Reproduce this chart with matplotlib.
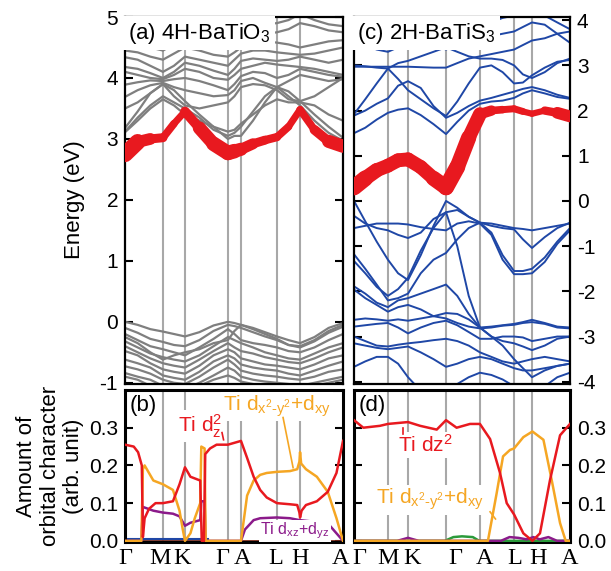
import numpy as np
import matplotlib.pyplot as plt
from matplotlib.collections import LineCollection

plt.rcParams.update({
    'font.family': 'Liberation Sans',
    'font.size': 15,
    'axes.unicode_minus': False,
    'mathtext.fontset': 'custom',
    'mathtext.rm': 'Liberation Sans',
    'mathtext.it': 'Liberation Sans',
    'mathtext.default': 'regular',
})

RED = '#e8191f'
ORANGE = '#f5a623'
PURPLE = '#8b1a8a'
GREY = '#7f7f7f'
BLUE = '#1f47a6'
VLINE = '#a8a8a8'

kpath_labels = ['Γ', 'M', 'K', 'Γ', 'A', 'L', 'H', 'A']

# ---------------- 4H-BaTiO3 ----------------
bto_sym = [0.0, 0.174, 0.275, 0.472, 0.532, 0.697, 0.803, 1.0]
bto_label_x = [0.0, 0.161, 0.261, 0.445, 0.537, 0.693, 0.803, 0.987]
bto_k = [0.0, 0.058, 0.116, 0.174, 0.2245, 0.275, 0.341, 0.406, 0.472, 0.502,
         0.532, 0.587, 0.642, 0.697, 0.750, 0.803, 0.869, 0.934, 1.0]

bto_red = [2.75, 2.95, 3.0, 3.02, 3.25, 3.45, 3.18, 2.92, 2.77, 2.8,
           2.83, 2.92, 2.98, 3.03, 3.2, 3.48, 3.15, 2.96, 2.88]
bto_red_w = [13, 10, 7, 6, 5, 5, 9, 10, 11, 10, 9, 7, 6, 6, 5, 5, 6, 8, 11]

bto_cond = [
    [3.12, 3.35, 3.55, 3.7, 3.6, 3.5, 3.35, 3.15, 3.05, 3.1, 3.2, 3.45, 3.7, 3.85, 3.7, 3.55, 3.3, 3.1, 2.97],
    [3.18, 3.45, 3.75, 3.9, 3.8, 3.62, 3.4, 3.2, 3.0, 3.05, 3.05, 3.3, 3.6, 3.85, 3.78, 3.62, 3.4, 3.2, 3.02],
    [3.69, 3.8, 3.88, 3.92, 3.85, 3.8, 3.75, 3.7, 3.72, 3.8, 3.95, 4.0, 3.92, 3.85, 3.95, 4.05, 4.0, 3.95, 3.98],
    [3.89, 3.93, 3.96, 3.95, 3.98, 4.0, 3.95, 3.88, 3.8, 3.9, 4.03, 4.1, 4.08, 4.0, 4.05, 4.15, 4.1, 4.05, 4.02],
    [4.1, 4.05, 4.0, 3.98, 4.05, 4.15, 4.1, 4.0, 3.97, 4.05, 4.15, 4.2, 4.25, 4.22, 4.2, 4.18, 4.15, 4.1, 4.05],
    [4.18, 4.15, 4.08, 4.0, 4.1, 4.25, 4.2, 4.12, 4.05, 4.15, 4.28, 4.32, 4.3, 4.28, 4.3, 4.35, 4.3, 4.25, 4.3],
    [4.34, 4.3, 4.2, 4.1, 4.2, 4.35, 4.3, 4.25, 4.2, 4.3, 4.4, 4.45, 4.45, 4.42, 4.4, 4.38, 4.4, 4.45, 4.5],
    [4.45, 4.42, 4.35, 4.3, 4.4, 4.5, 4.45, 4.38, 4.35, 4.42, 4.5, 4.55, 4.6, 4.58, 4.55, 4.5, 4.55, 4.6, 4.62],
    [4.6, 4.55, 4.5, 4.45, 4.55, 4.65, 4.6, 4.55, 4.5, 4.58, 4.65, 4.7, 4.72, 4.75, 4.8, 4.9, 4.85, 4.78, 4.75],
    [4.75, 4.7, 4.65, 4.6, 4.7, 4.8, 4.78, 4.7, 4.65, 4.72, 4.8, 4.85, 4.88, 4.9, 4.95, 5.05, 4.95, 4.88, 4.85],
    [3.5, 3.6, 3.75, 3.9, 3.7, 3.55, 3.5, 3.55, 3.6, 3.7, 3.85, 3.9, 3.88, 3.8, 3.65, 3.62, 3.7, 3.85, 4.0],
    [3.11, 3.3, 3.5, 3.65, 3.55, 3.4, 3.3, 3.2, 3.12, 3.15, 3.25, 3.4, 3.55, 3.65, 3.6, 3.6, 3.55, 3.4, 3.3],
]

bto_val = [
    [0.0, -0.05, -0.12, -0.16, -0.2, -0.24, -0.17, -0.06, 0.0, -0.02, -0.05, -0.1, -0.17, -0.24, -0.3, -0.35, -0.25, -0.1, -0.02],
    [-0.1, -0.18, -0.28, -0.33, -0.38, -0.4, -0.3, -0.15, -0.05, -0.07, -0.1, -0.17, -0.24, -0.3, -0.38, -0.42, -0.32, -0.18, -0.08],
    [-0.2, -0.3, -0.4, -0.45, -0.5, -0.55, -0.42, -0.28, -0.12, -0.2, -0.3, -0.35, -0.38, -0.42, -0.48, -0.5, -0.42, -0.3, -0.2],
    [-0.32, -0.42, -0.52, -0.58, -0.62, -0.65, -0.55, -0.4, -0.25, -0.3, -0.35, -0.42, -0.5, -0.55, -0.6, -0.62, -0.52, -0.42, -0.35],
    [-0.4, -0.5, -0.6, -0.68, -0.72, -0.75, -0.62, -0.48, -0.35, -0.42, -0.48, -0.52, -0.58, -0.62, -0.66, -0.68, -0.6, -0.5, -0.42],
    [-0.48, -0.55, -0.68, -0.78, -0.82, -0.85, -0.72, -0.55, -0.45, -0.5, -0.6, -0.65, -0.7, -0.72, -0.75, -0.78, -0.7, -0.6, -0.55],
    [-0.62, -0.68, -0.75, -0.88, -0.92, -0.95, -0.82, -0.65, -0.55, -0.6, -0.7, -0.75, -0.78, -0.8, -0.85, -0.88, -0.8, -0.72, -0.65],
    [-0.73, -0.78, -0.85, -0.95, -1.0, -1.02, -0.9, -0.75, -0.62, -0.7, -0.8, -0.85, -0.88, -0.9, -0.93, -0.95, -0.9, -0.82, -0.78],
    [-0.84, -0.9, -0.95, -1.05, -1.1, -1.1, -1.0, -0.88, -0.75, -0.8, -0.9, -0.95, -0.98, -1.0, -1.02, -1.05, -1.0, -0.95, -0.9],
    [-0.9, -0.95, -1.05, -1.1, -1.1, -1.1, -1.05, -0.95, -0.88, -0.92, -0.98, -1.02, -1.05, -1.08, -1.1, -1.1, -1.05, -1.0, -0.95],
    [-0.25, -0.35, -0.5, -0.62, -0.55, -0.5, -0.45, -0.35, -0.3, -0.15, -0.05, -0.12, -0.2, -0.28, -0.38, -0.4, -0.3, -0.15, -0.05],
]

# orbital character, 4H-BaTiO3
b_red_k = [0.0, 0.04, 0.06, 0.077, 0.082, 0.09, 0.11, 0.14, 0.174, 0.22, 0.25, 0.275, 0.3, 0.345,
           0.352, 0.362, 0.368, 0.39, 0.42, 0.472, 0.532, 0.56, 0.59, 0.62, 0.65, 0.697, 0.757,
           0.79, 0.8, 0.803, 0.81, 0.83, 0.88, 0.93, 0.97, 1.0]
b_red = [0.255, 0.25, 0.235, 0.2, 0.01, 0.06, 0.085, 0.1, 0.1, 0.105, 0.15, 0.195, 0.17, 0.16,
         0.0, 0.0, 0.23, 0.245, 0.255, 0.255, 0.265, 0.22, 0.17, 0.135, 0.115, 0.1, 0.097,
         0.095, 0.075, 0.062, 0.08, 0.095, 0.105, 0.13, 0.18, 0.265]
b_orange_k = [0.0, 0.075, 0.082, 0.09, 0.13, 0.174, 0.22, 0.25, 0.265, 0.275, 0.3, 0.32, 0.345,
              0.35, 0.365, 0.37, 0.532, 0.56, 0.59, 0.62, 0.65, 0.697, 0.757, 0.79, 0.8, 0.803,
              0.808, 0.83, 0.88, 0.93, 0.97, 1.0]
b_orange = [0.0, 0.0, 0.19, 0.2, 0.16, 0.15, 0.135, 0.08, 0.03, 0.0, 0.02, 0.06, 0.1,
            0.25, 0.245, 0.0, 0.0, 0.12, 0.16, 0.175, 0.18, 0.183, 0.185, 0.19, 0.21, 0.235,
            0.205, 0.19, 0.17, 0.13, 0.06, 0.0]
b_purple_k = [0.0, 0.075, 0.082, 0.13, 0.174, 0.22, 0.25, 0.275, 0.3, 0.345, 0.35, 0.365, 0.37,
              0.532, 0.55, 0.59, 0.62, 0.697, 0.757, 0.8, 0.88, 0.94, 0.97, 1.0]
b_purple = [0.0, 0.0, 0.09, 0.08, 0.075, 0.072, 0.065, 0.04, 0.048, 0.055, 0.105, 0.105, 0.0,
            0.0, 0.03, 0.055, 0.06, 0.062, 0.06, 0.055, 0.05, 0.04, 0.02, 0.0]

# ---------------- 2H-BaTiS3 ----------------
bts_sym = [0.0, 0.157, 0.25, 0.426, 0.583, 0.741, 0.824, 1.0]
bts_label_x = [0.023, 0.157, 0.269, 0.468, 0.606, 0.745, 0.852, 1.0]
bts_k = [0.0, 0.052, 0.105, 0.157, 0.204, 0.25, 0.309, 0.368, 0.426, 0.478,
         0.531, 0.583, 0.636, 0.688, 0.741, 0.782, 0.824, 0.883, 0.941, 1.0]

bts_red = [0.3, 0.5, 0.68, 0.78, 0.9, 0.92, 0.75, 0.5, 0.3, 0.75,
           1.4, 1.92, 2.0, 2.02, 2.04, 1.98, 1.93, 2.0, 1.95, 1.87]
bts_red_w = [12, 11, 10, 10, 10, 10, 10, 10, 12, 11, 11, 9, 6, 5, 5, 5, 4, 5, 7, 10]

bts_cond = [
    [1.5, 1.62, 1.8, 1.95, 2.02, 2.05, 1.9, 1.7, 1.48, 1.75, 2.0, 2.15, 2.2, 2.22, 2.28, 2.38, 2.45, 2.38, 2.3, 2.26],
    [1.89, 2.0, 2.15, 2.27, 2.55, 2.65, 2.5, 2.1, 1.84, 1.95, 2.1, 2.22, 2.28, 2.35, 2.42, 2.48, 2.52, 2.45, 2.35, 2.28],
    [1.92, 2.25, 2.6, 2.93, 3.05, 3.1, 3.2, 3.3, 3.4, 3.3, 3.2, 3.15, 3.15, 3.12, 3.0, 2.8, 2.72, 2.85, 3.05, 3.15],
    [3.0, 2.98, 2.95, 2.93, 2.7, 2.45, 2.25, 2.05, 1.88, 2.2, 2.6, 2.95, 3.0, 2.85, 2.6, 2.62, 2.78, 2.95, 3.08, 3.12],
    [2.97, 2.97, 2.97, 2.97, 2.97, 2.97, 2.96, 2.95, 2.95, 3.05, 3.15, 3.2, 3.25, 3.3, 3.35, 3.45, 3.55, 3.6, 3.7, 3.75],
    [3.5, 3.45, 3.35, 3.3, 3.4, 3.5, 3.55, 3.45, 3.35, 3.45, 3.55, 3.6, 3.65, 3.7, 3.75, 3.85, 3.95, 3.9, 3.7, 3.5],
    [3.85, 3.75, 3.65, 3.55, 3.6, 3.7, 3.85, 3.75, 3.6, 3.7, 3.85, 3.9, 3.95, 4.05, 4.1, 4.15, 4.15, 4.1, 3.95, 3.8],
]

bts_val = [
    [0.0, -0.45, -0.9, -1.3, -1.6, -1.75, -1.2, -0.55, 0.0, -0.15, -0.35, -0.48, -0.55, -0.6, -0.63, -0.85, -1.04, -0.8, -0.6, -0.48],
    [-0.33, -0.5, -0.6, -0.65, -0.75, -0.82, -0.7, -0.4, -0.25, -0.2, -0.35, -0.48, -0.7, -1.2, -1.55, -1.55, -1.5, -1.25, -0.9, -0.6],
    [-0.6, -0.55, -0.5, -0.5, -0.5, -0.52, -0.58, -0.62, -0.65, -0.5, -0.45, -0.5, -0.75, -1.3, -1.62, -1.62, -1.6, -1.35, -0.95, -0.65],
    [-1.18, -1.5, -1.85, -2.2, -2.15, -2.05, -1.6, -1.3, -1.15, -0.85, -0.6, -0.48, -0.5, -0.55, -0.6, -0.62, -0.65, -0.6, -0.55, -0.5],
    [-1.33, -1.6, -1.9, -2.1, -1.95, -1.7, -1.1, -0.6, -0.25, -1.0, -2.1, -2.8, -3.0, -3.2, -3.5, -3.7, -3.9, -3.75, -3.65, -3.6],
    [-1.89, -2.05, -2.25, -2.35, -2.2, -2.15, -2.05, -1.95, -1.85, -2.1, -2.5, -2.8, -2.78, -2.75, -2.72, -2.68, -2.63, -2.7, -2.78, -2.8],
    [-1.96, -2.15, -2.3, -2.45, -2.35, -2.3, -2.4, -2.55, -2.6, -2.7, -2.78, -2.82, -2.8, -2.76, -2.74, -2.7, -2.68, -2.72, -2.8, -2.82],
    [-2.63, -2.6, -2.62, -2.65, -2.62, -2.65, -2.6, -2.55, -2.48, -2.5, -2.62, -2.8, -3.0, -3.1, -3.15, -3.22, -3.3, -3.2, -3.05, -3.0],
    [-2.78, -2.75, -2.72, -2.7, -2.8, -2.93, -2.8, -2.7, -2.65, -2.75, -2.9, -3.05, -3.05, -3.0, -3.0, -3.02, -3.1, -3.05, -3.0, -3.0],
    [-3.0, -3.1, -3.2, -3.22, -3.18, -3.15, -3.12, -3.08, -3.05, -3.1, -3.2, -3.35, -3.45, -3.55, -3.6, -3.55, -3.5, -3.45, -3.5, -3.55],
    [-3.15, -3.2, -3.25, -3.28, -3.25, -3.22, -3.35, -3.5, -3.67, -3.6, -3.5, -3.45, -3.5, -3.6, -3.7, -3.75, -3.75, -3.7, -3.65, -3.6],
    [-3.67, -3.55, -3.45, -3.45, -3.6, -3.9, -4.2, -4.3, -4.2, -4.05, -3.9, -3.8, -3.85, -3.95, -4.1, -4.2, -4.2, -4.1, -3.9, -3.8],
]

# orbital character, 2H-BaTiS3
d_red_k = [0.0, 0.043, 0.12, 0.157, 0.25, 0.306, 0.383, 0.426, 0.475, 0.537, 0.583, 0.63,
           0.676, 0.707, 0.741, 0.784, 0.826, 0.861, 0.907, 0.954, 1.0]
d_red = [0.32, 0.3, 0.305, 0.31, 0.315, 0.305, 0.295, 0.32, 0.3, 0.31, 0.31, 0.27,
         0.18, 0.1, 0.07, 0.02, 0.0, 0.02, 0.16, 0.28, 0.31]
d_orange_k = [0.0, 0.62, 0.66, 0.69, 0.722, 0.741, 0.784, 0.826, 0.877, 0.915, 0.954, 0.98, 1.0]
d_orange = [0.0, 0.0, 0.125, 0.224, 0.241, 0.245, 0.275, 0.29, 0.268, 0.162, 0.047, 0.0, 0.0]
d_green_k = [0.0, 0.42, 0.46, 0.5, 0.55, 0.58, 1.0]
d_green = [0.0, 0.0, 0.01, 0.012, 0.01, 0.0, 0.0]
d_purple_k = [0.0, 0.2, 0.25, 0.3, 0.68, 0.72, 0.76, 0.8, 0.83, 0.86, 0.9, 0.94, 1.0]
d_purple = [0.0, 0.0, 0.008, 0.0, 0.0, 0.01, 0.008, 0.004, 0.01, 0.004, 0.01, 0.0, 0.0]


def fat_band(ax, k, e, w):
    pts = np.column_stack([k, e])
    segs = np.stack([pts[:-1], pts[1:]], axis=1)
    w = np.asarray(w, dtype=float)
    lc = LineCollection(segs, linewidths=(w[:-1] + w[1:]) / 2, colors=RED,
                        capstyle='round', joinstyle='round', zorder=5)
    ax.add_collection(lc)


def style_axis(ax, lw, label_right=False):
    for sp in ax.spines.values():
        sp.set_linewidth(lw)
    ax.tick_params(axis='y', direction='in', left=True, right=True, length=6, width=1.5,
                   labelleft=not label_right, labelright=label_right, labelsize=15, pad=5)
    ax.tick_params(axis='x', length=0)
    ax.set_xlim(0, 1)


fig = plt.figure(figsize=(6.11, 5.71), dpi=100)
ax_a = fig.add_axes([0.2046, 0.3275, 0.3568, 0.6427])
ax_c = fig.add_axes([0.5794, 0.3275, 0.3535, 0.6427])
ax_b = fig.add_axes([0.2046, 0.0508, 0.3568, 0.2662])
ax_d = fig.add_axes([0.5794, 0.0508, 0.3535, 0.2662])

# (a) bands
for x in bto_sym[1:-1]:
    ax_a.axvline(x, color=VLINE, lw=1.5, zorder=1)
for band in bto_cond + bto_val:
    ax_a.plot(bto_k, band, color=GREY, lw=1.6, zorder=2)
fat_band(ax_a, bto_k, bto_red, bto_red_w)
ax_a.set_ylim(-1.02, 5.0)
ax_a.set_yticks([-1, 0, 1, 2, 3, 4, 5])
ax_a.set_xticks([])
style_axis(ax_a, 1.6)
ax_a.text(0.012, 0.99, '(a) 4H-BaTiO$_3$', transform=ax_a.transAxes, va='top', ha='left',
          fontsize=16, zorder=10,
          bbox=dict(boxstyle='square,pad=0.2', facecolor='white', edgecolor='none'))

# (c) bands
for x in bts_sym[1:-1]:
    ax_c.axvline(x, color=VLINE, lw=1.5, zorder=1)
for band in bts_cond + bts_val:
    ax_c.plot(bts_k, band, color=BLUE, lw=1.4, zorder=2)
fat_band(ax_c, bts_k, bts_red, bts_red_w)
ax_c.set_ylim(-4.05, 4.07)
ax_c.set_yticks([-4, -3, -2, -1, 0, 1, 2, 3, 4])
ax_c.set_xticks([])
style_axis(ax_c, 1.6, label_right=True)
ax_c.text(0.012, 0.99, '(c) 2H-BaTiS$_3$', transform=ax_c.transAxes, va='top', ha='left',
          fontsize=16, zorder=10,
          bbox=dict(boxstyle='square,pad=0.2', facecolor='white', edgecolor='none'))

# (b) orbital character
for x in bto_sym[1:-1]:
    ax_b.axvline(x, color=VLINE, lw=1.5, zorder=1)
ax_b.plot([0, 1], [0.0, 0.0], color='#7a2a1a', lw=2, zorder=2)
ax_b.plot([0, 0.38], [0.004, 0.004], color=BLUE, lw=1.5, zorder=2)
ax_b.plot(b_purple_k, b_purple, color=PURPLE, lw=1.8, zorder=3)
ax_b.plot(b_orange_k, b_orange, color=ORANGE, lw=1.8, zorder=4)
ax_b.plot(b_red_k, b_red, color=RED, lw=1.8, zorder=5)
ax_b.set_ylim(-0.003, 0.40)
ax_b.set_yticks([0.0, 0.1, 0.2, 0.3])
ax_b.set_yticklabels(['0.0', '0.1', '0.2', '0.3'])
style_axis(ax_b, 2.2)
ax_b.set_xticks(bto_label_x)
ax_b.set_xticklabels(kpath_labels, family='Liberation Serif', fontsize=17.5)
ax_b.tick_params(axis='x', pad=4)
ax_b.text(0.022, 0.97, '(b)', transform=ax_b.transAxes, va='top', ha='left', fontsize=16)
ax_b.text(0.344, 0.305, 'Ti d$_z^2$', color=RED, ha='center', va='center', fontsize=15,
          zorder=8, bbox=dict(boxstyle='square,pad=0.1', facecolor='white', edgecolor='none'))
ax_b.plot([0.445, 0.452], [0.287, 0.268], color=RED, lw=1.2, zorder=8)
ax_b.text(0.697, 0.356, 'Ti d$_{x^2\u2010y^2}$+d$_{xy}$', color=ORANGE, ha='center',
          va='center', fontsize=15, zorder=8,
          bbox=dict(boxstyle='square,pad=0.1', facecolor='white', edgecolor='none'))
ax_b.plot([0.725, 0.771], [0.327, 0.194], color=ORANGE, lw=1.2, zorder=8)
ax_b.text(0.78, 0.026, 'Ti d$_{xz}$+d$_{yz}$', color=PURPLE, ha='center', va='center',
          fontsize=11.5, zorder=8,
          bbox=dict(boxstyle='square,pad=0.05', facecolor='white', edgecolor='none'))

# (d) orbital character
for x in bts_sym[1:-1]:
    ax_d.axvline(x, color=VLINE, lw=1.5, zorder=1)
ax_d.plot([0, 1], [0.0, 0.0], color='#7a2a1a', lw=2, zorder=2)
ax_d.plot(d_green_k, d_green, color='#2a9a3a', lw=1.8, zorder=3)
ax_d.plot(d_purple_k, d_purple, color=PURPLE, lw=1.8, zorder=3)
ax_d.plot(d_orange_k, d_orange, color=ORANGE, lw=1.8, zorder=4)
ax_d.plot(d_red_k, d_red, color=RED, lw=1.8, zorder=5)
ax_d.set_ylim(-0.003, 0.40)
ax_d.set_yticks([0.0, 0.1, 0.2, 0.3])
ax_d.set_yticklabels(['0.0', '0.1', '0.2', '0.3'])
style_axis(ax_d, 2.2, label_right=True)
ax_d.set_xticks(bts_label_x)
ax_d.set_xticklabels(kpath_labels, family='Liberation Serif', fontsize=17.5)
ax_d.tick_params(axis='x', pad=4)
ax_d.text(0.022, 0.97, '(d)', transform=ax_d.transAxes, va='top', ha='left', fontsize=16)
ax_d.text(0.329, 0.255, 'Ti dz$^2$', color=RED, ha='center', va='center', fontsize=15,
          zorder=8, bbox=dict(boxstyle='square,pad=0.1', facecolor='white', edgecolor='none'))
ax_d.plot([0.227, 0.227], [0.3, 0.283], color=RED, lw=1.2, zorder=8)
ax_d.text(0.352, 0.109, 'Ti d$_{x^2\u2010y^2}$+d$_{xy}$', color=ORANGE, ha='center',
          va='center', fontsize=15, zorder=8,
          bbox=dict(boxstyle='square,pad=0.1', facecolor='white', edgecolor='none'))
ax_d.plot([0.63, 0.655], [0.077, 0.058], color=ORANGE, lw=1.2, zorder=8)

fig.text(0.122, 0.65, 'Energy (eV)', rotation=90, ha='center', va='center', fontsize=16)
fig.text(0.082, 0.184, 'Amount of\norbital character\n(arb. unit)', rotation=90,
         ha='center', va='center', fontsize=16, linespacing=1.15)

fig.savefig('out.png', dpi=100)
